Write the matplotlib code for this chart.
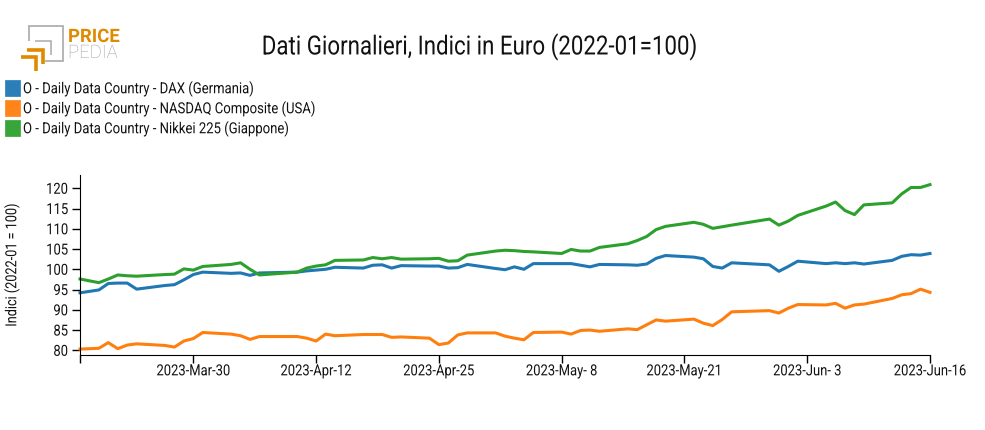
import datetime as dt
import matplotlib
matplotlib.use("Agg")
import matplotlib.pyplot as plt
import matplotlib.dates as mdates
from matplotlib.patches import Rectangle
from matplotlib.lines import Line2D
from matplotlib.patheffects import AbstractPathEffect
from matplotlib.transforms import Affine2D

plt.rcParams["font.family"] = ["Roboto", "DejaVu Sans"]

START = dt.date(2023, 3, 18)
day_offsets = [0,2,3,4,5,6,9,10,11,12,13,16,17,18,19,23,24,25,26,27,30,31,32,33,34,37,38,39,40,41,
               44,45,46,47,48,51,52,53,54,55,58,59,60,61,62,65,66,67,68,69,73,74,75,76,79,80,81,82,83,86,87,88,89,90]
dax = [94.2,94.9,96.5,96.6,96.6,95.1,96.0,96.2,97.4,98.7,99.3,99.0,99.1,98.5,99.1,99.3,99.6,99.8,100.0,100.5,
       100.3,101.0,101.1,100.3,100.9,100.8,100.8,100.3,100.4,101.2,100.2,99.9,100.6,100.0,101.4,101.4,101.4,101.0,100.6,101.2,
       101.1,101.0,101.3,102.7,103.4,103.0,102.6,100.7,100.3,101.6,101.1,99.5,100.7,102.0,101.4,101.6,101.4,101.6,101.3,102.2,103.2,103.6,103.5,103.9]
nasdaq = [80.3,80.5,81.9,80.4,81.3,81.6,81.2,80.8,82.3,82.9,84.4,84.0,83.6,82.7,83.4,83.4,83.0,82.3,84.0,83.6,
          83.9,83.9,83.9,83.2,83.3,83.0,81.4,81.8,83.8,84.3,84.3,83.5,83.0,82.6,84.4,84.5,84.0,84.9,85.0,84.7,
          85.3,85.1,86.3,87.5,87.2,87.7,86.7,86.1,87.6,89.5,89.8,89.2,90.4,91.3,91.2,91.6,90.4,91.2,91.4,92.8,93.7,94.0,95.1,94.3]
nikkei = [97.6,96.7,97.6,98.6,98.4,98.3,98.7,98.8,100.1,99.8,100.7,101.2,101.6,100.0,98.6,99.3,100.3,100.8,101.1,102.2,
          102.3,102.9,102.6,102.9,102.5,102.6,102.7,102.0,102.1,103.5,104.5,104.7,104.6,104.4,104.3,103.9,104.9,104.5,104.5,105.4,
          106.3,107.1,108.1,109.8,110.6,111.6,111.1,110.1,110.5,110.9,112.4,110.9,111.9,113.3,115.6,116.6,114.5,113.5,115.9,116.4,118.6,120.2,120.2,120.9]
series_names = ["O - Daily Data Country - DAX (Germania)",
                "O - Daily Data Country - NASDAQ Composite (USA)",
                "O - Daily Data Country - Nikkei 225 (Giappone)"]
colors = ["#1f77b4", "#ff7f0e", "#2ca02c"]
y_ticks = [80, 85, 90, 95, 100, 105, 110, 115, 120]
x_tick_offsets = [0, 12, 25, 38, 51, 64, 77, 90]
x_tick_labels = ["", "2023-Mar-30", "2023-Apr-12", "2023-Apr-25", "2023-May- 8",
                 "2023-May-21", "2023-Jun- 3", "2023-Jun-16"]


class Condense(AbstractPathEffect):
    """Rescale a text's glyphs about its baseline, keeping it anchored (frac: 0 left, .5 centre, 1 right)."""
    def __init__(self, sx, frac=0.0, sy=1.0):
        super().__init__()
        self.sx, self.frac, self.sy = sx, frac, sy

    def draw_path(self, renderer, gc, tpath, affine, rgbFace=None):
        width = tpath.get_extents().x1
        shift = (1 - self.sx) * width * self.frac
        renderer.draw_path(gc, tpath, Affine2D().scale(self.sx, self.sy).translate(shift, 0) + affine, rgbFace)


W, H = 985, 430
TXT = "#111111"
fig = plt.figure(figsize=(W/100, H/100), dpi=100)
def fx(x): return x / W
def fy(y): return 1 - y / H

ax = fig.add_axes([fx(80), fy(355.3), fx(930) - fx(80), fy(175.3) - fy(355.3)])
dates = [START + dt.timedelta(days=d) for d in day_offsets]
for vals, c, name in zip([dax, nasdaq, nikkei], colors, series_names):
    ax.plot(dates, vals, color=c, lw=2.2, solid_joinstyle="round", clip_on=False, label=name)
ax.set_xlim(START, START + dt.timedelta(days=90))
ax.set_ylim(78.77, 123.2)
ax.set_xticks([mdates.date2num(START + dt.timedelta(days=d)) for d in x_tick_offsets])
ax.set_xticklabels(x_tick_labels)
ax.set_yticks(y_ticks)
ax.tick_params(length=6, width=1, labelsize=11, pad=2.5, color="#000000", labelcolor=TXT)
ax.tick_params(axis="x", pad=0.5)
for t in ax.get_xticklabels():
    t.set_path_effects([Condense(0.85, 0.5)])
for t in ax.get_yticklabels():
    t.set_path_effects([Condense(0.85, 1.0)])
for s in ("top", "right"):
    ax.spines[s].set_visible(False)

fig.text(fx(12), fy(265), "Indici (2022-01 = 100)", rotation=90, fontsize=11, ha="center", va="center",
         color=TXT, path_effects=[Condense(0.83, 0.5)])

fig.text(fx(480), fy(47), "Dati Giornalieri, Indici in Euro (2022-01=100)", fontsize=19,
         ha="center", va="center", color=TXT, path_effects=[Condense(0.845, 0.5)])

# legend
for i, (name, c) in enumerate(zip(series_names, colors)):
    yc = 88 + 20 * i
    fig.add_artist(Rectangle((fx(5), fy(yc + 8)), 15 / W, 16 / H, transform=fig.transFigure,
                             facecolor=c, edgecolor=c, alpha=0.95, lw=0.5))
    fig.text(fx(23), fy(yc + 1), name, fontsize=11, ha="left", va="center", color=TXT,
             path_effects=[Condense(0.858, 0.0)])

# logo
grey = "#a9a9a9"; orange = "#e08a00"
def poly(xs, ys, c, lw):
    fig.add_artist(Line2D([fx(x) for x in xs], [fy(y) for y in ys], color=c, lw=lw,
                          solid_joinstyle="miter", solid_capstyle="butt", transform=fig.transFigure))
poly([29, 29, 63, 63, 45], [41, 26, 26, 61, 61], grey, 1.2)
poly([35, 51, 51], [41, 41, 55], grey, 1.1)
poly([27, 43, 43], [50, 50, 64], orange, 2.6)
poly([20.5, 36, 36], [56.5, 56.5, 71], orange, 2.6)
fig.text(fx(68), fy(42), "PRICE", fontsize=11.5, fontweight="bold", color=orange, ha="left", va="baseline",
         path_effects=[Condense(1.16, 0.0, 1.16)])
fig.text(fx(68), fy(58), "PEDIA", fontsize=11.5, fontweight="light", color="#a0a0a0", ha="left", va="baseline",
         path_effects=[Condense(1.16, 0.0, 1.16)])

fig.savefig("out.png", dpi=100)
